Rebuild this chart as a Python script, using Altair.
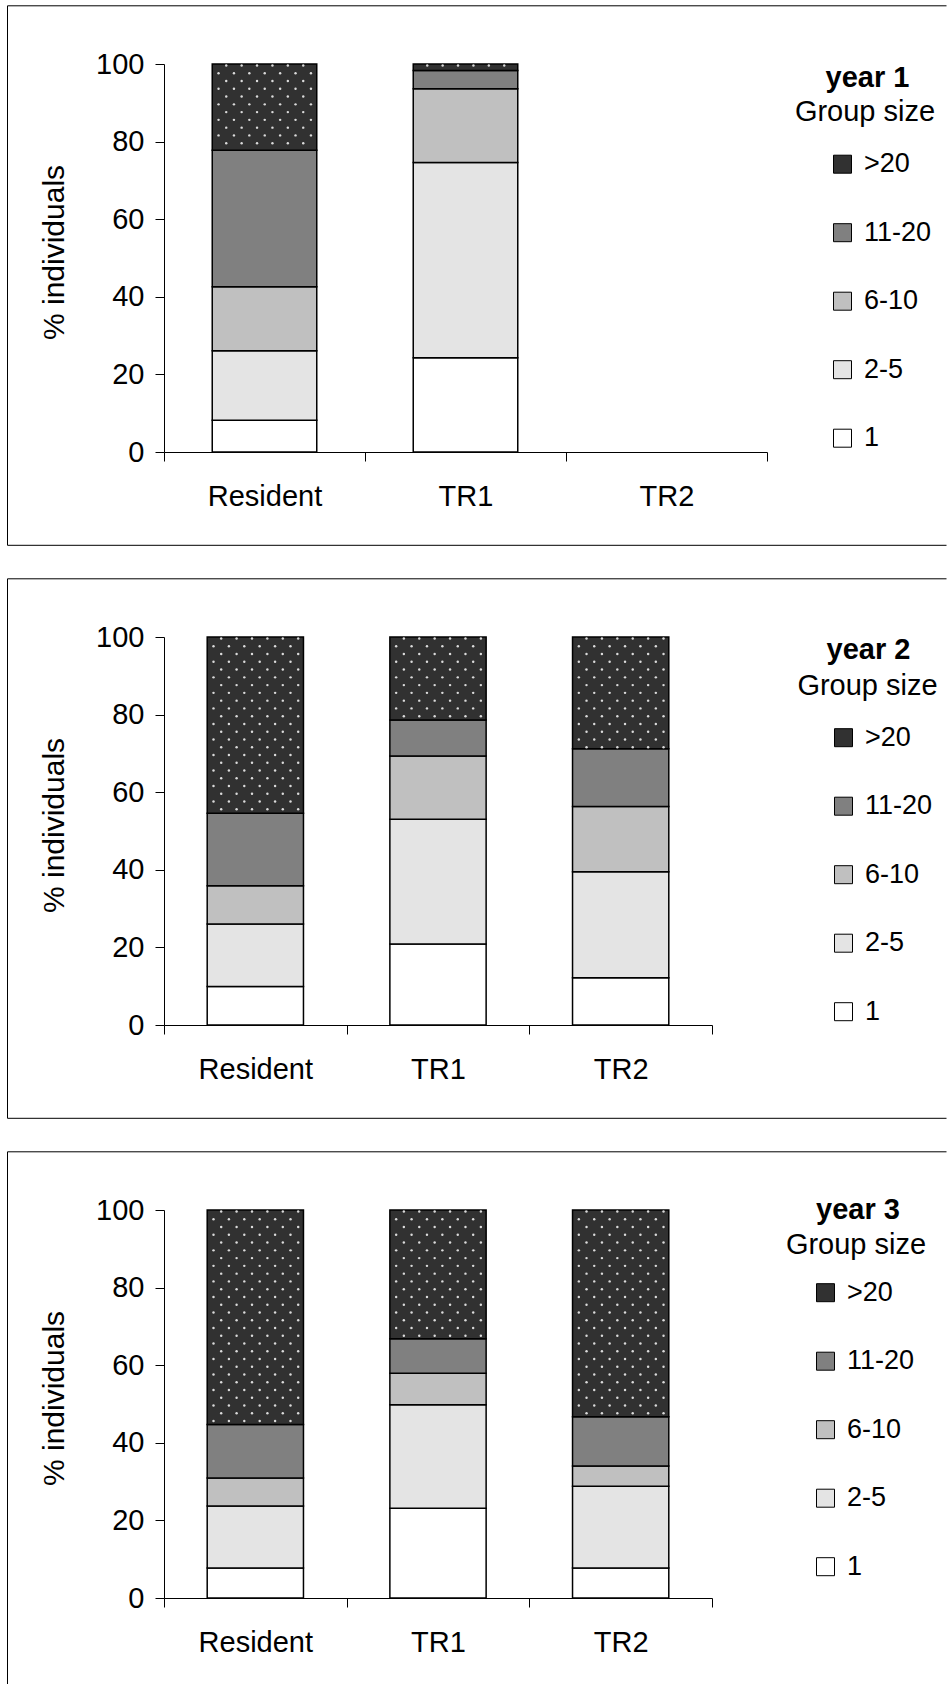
import altair as alt
import pandas as pd

FONT = "Liberation Sans"

categories = ["Resident", "TR1", "TR2"]
# legend order, top to bottom
group_sizes = [">20", "11-20", "6-10", "2-5", "1"]
fills = ["#313131", "#808080", "#c0c0c0", "#e4e4e4", "#ffffff"]
# stacking order, bottom to top
stack_order = ["1", "2-5", "6-10", "11-20", ">20"]

# % individuals per group size, listed bottom to top (1, 2-5, 6-10, 11-20, >20)
year1_resident = [8.2, 17.9, 16.5, 35.2, 22.2]
year1_tr1 = [24.3, 50.3, 19.0, 4.7, 1.7]
year1_tr2 = []

year2_resident = [9.9, 16.1, 9.9, 18.7, 45.4]
year2_tr1 = [20.9, 32.1, 16.3, 9.3, 21.4]
year2_tr2 = [12.2, 27.3, 16.8, 14.9, 28.8]

year3_resident = [7.7, 16.0, 7.2, 13.8, 55.3]
year3_tr1 = [23.1, 26.7, 8.1, 8.9, 33.2]
year3_tr2 = [7.7, 21.1, 5.2, 12.7, 53.3]

ONE = pd.DataFrame({"k": [0]})
CAT_LIST = "[" + ", ".join(f"'{c}'" for c in categories) + "]"


def frame_line(x, x2, y, y2):
    return alt.Chart(ONE).mark_rule(color="black", strokeWidth=1).encode(
        x=alt.value(x), x2=alt.value(x2), y=alt.value(y), y2=alt.value(y2)
    )


def panel(year, series, width, height, band, legend_xy, year_xy, group_xy, frame_bottom):
    rows = []
    for cat, vals in zip(categories, series):
        for i, v in enumerate(vals):
            rows.append({"category": cat, "group": stack_order[i], "order": i, "value": v})
    df = pd.DataFrame(rows, columns=["category", "group", "order", "value"])

    step = width / len(categories)
    bar_start = (1 - band) / 2 * step
    bar_end = bar_start + band * step
    x_scale = alt.Scale(domain=categories, paddingInner=0, paddingOuter=0)
    y_scale = alt.Scale(domain=[0, 100], nice=False)

    # panel border: left, top and (optionally) bottom edges; the right edge runs off the page
    left, top, right = -156.5, -58.2, 782.5
    bottom = height + 93.3
    lines = [
        frame_line(left, left, top, bottom if frame_bottom else height + 87),
        frame_line(left, right, top, top),
    ]
    if frame_bottom:
        lines.append(frame_line(left, right, bottom, bottom))

    bars = alt.Chart(df).mark_bar(
        width=alt.RelativeBandSize(band), stroke="black", strokeWidth=1.5
    ).encode(
        x=alt.X(
            "category:N",
            sort=categories,
            scale=x_scale,
            axis=alt.Axis(
                title=None, labelAngle=0, tickBand="extent", tickSize=9,
                labelPadding=21, labelFontSize=29, labelFont=FONT,
                labelColor="black", domainColor="black", tickColor="black",
            ),
        ),
        y=alt.Y(
            "value:Q",
            stack="zero",
            scale=y_scale,
            axis=alt.Axis(
                values=[0, 20, 40, 60, 80, 100], title="% individuals",
                tickSize=9, labelPadding=11, grid=False,
                labelFontSize=29, labelFont=FONT, labelColor="black",
                titleFontSize=30, titleFont=FONT, titleFontWeight="normal",
                titleColor="black", titleAngle=270, titleX=-110, titleY=188,
                titleBaseline="middle", titleAlign="center",
                domainColor="black", tickColor="black",
            ),
        ),
        color=alt.Color(
            "group:N",
            scale=alt.Scale(domain=group_sizes, range=fills),
            legend=alt.Legend(
                title=None, orient="none", legendX=legend_xy[0], legendY=legend_xy[1],
                symbolType="square", symbolSize=324, symbolStrokeColor="black",
                symbolStrokeWidth=1, labelFontSize=27, labelFont=FONT,
                labelColor="black", rowPadding=40.5, labelOffset=8, padding=0,
            ),
        ),
        order=alt.Order("order:Q", sort="ascending"),
    )

    # dotted texture inside the ">20" segments: staggered rows every 2 % from the top
    dots = alt.Chart(df).transform_filter(
        "datum.group == '>20'"
    ).transform_calculate(
        r="sequence(0, ceil(datum.value / 2.0) + 1)"
    ).transform_flatten(
        ["r"]
    ).transform_calculate(
        yv="100 - 0.4 - datum.r * 2.0",
        c="sequence(0, 8)",
    ).transform_filter(
        "datum.yv > 100 - datum.value + 0.3"
    ).transform_flatten(
        ["c"]
    ).transform_calculate(
        xo=f"{bar_start} + (datum.r % 2 == 0 ? 14 : 6.3) + datum.c * 15.4"
    ).transform_filter(
        f"datum.xo < {bar_end} - 2.5"
    ).transform_calculate(
        xp=f"indexof({CAT_LIST}, datum.category) * {step} + datum.xo"
    ).mark_circle(size=6, color="#eeeeee", opacity=0.9).encode(
        x=alt.X("xp:Q", scale=alt.Scale(domain=[0, width], nice=False, zero=False), axis=None),
        y=alt.Y("yv:Q", scale=y_scale),
    )

    year_text = alt.Chart(pd.DataFrame({"t": [year]})).mark_text(
        font=FONT, fontSize=29, fontWeight="bold", align="center", baseline="middle", color="black"
    ).encode(text="t:N", x=alt.value(year_xy[0]), y=alt.value(year_xy[1]))

    group_text = alt.Chart(pd.DataFrame({"t": ["Group size"]})).mark_text(
        font=FONT, fontSize=29, align="center", baseline="middle", color="black"
    ).encode(text="t:N", x=alt.value(group_xy[0]), y=alt.value(group_xy[1]))

    return alt.layer(*lines, bars, dots, year_text, group_text).resolve_scale(
        x="independent"
    ).properties(width=width, height=height)


p1 = panel("year 1", [year1_resident, year1_tr1, year1_tr2], 603, 388, 0.52,
           (665, 86.7), (703.5, 13.7), (701, 48), True)
p2 = panel("year 2", [year2_resident, year2_tr1, year2_tr2], 548, 388, 0.527,
           (666, 87.2), (704.5, 13.2), (703.5, 48.6), True)
p3 = panel("year 3", [year3_resident, year3_tr1, year3_tr2], 548, 388, 0.527,
           (648, 69.2), (694, -0.4), (692, 34.6), False)

chart = alt.vconcat(p1, p2, p3, spacing=32).resolve_scale(
    color="independent"
).resolve_legend(
    color="independent"
).properties(
    padding={"left": 7, "top": 5, "right": 0, "bottom": 0},
    background="white",
).configure_view(stroke=None)

chart.save("out.html", embed_options={"renderer": "svg", "actions": False})
